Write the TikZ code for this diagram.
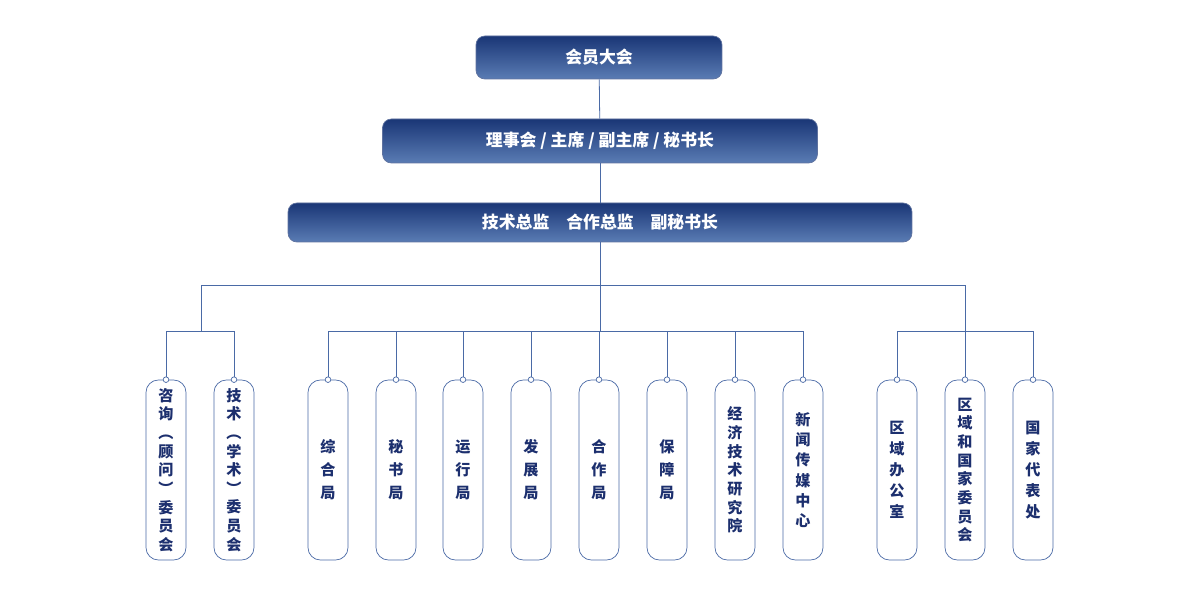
\documentclass[tikz,border=0pt]{standalone}
\usepackage{fontspec}
\setmainfont{Noto Sans CJK SC}
\usepackage{tikz}
\usetikzlibrary{positioning}
\definecolor{navyTop}{HTML}{1A3676}
\definecolor{navyBot}{HTML}{5A7CB4}
\definecolor{lineBlue}{HTML}{4A6AA6}
\definecolor{textBlue}{HTML}{1C2F6E}
\newcommand*\stackChars[2]{%
	\parbox{1.2em}{\centering\bfseries\fontsize{8.6pt}{#1}\selectfont #2}}
\begin{document}
\begin{tikzpicture}[x=0.02cm,y=-0.02cm,
	head/.style = { rounded corners=5pt, top color=navyTop, bottom color=navyBot, draw=navyTop!70, text=white, font=\bfseries\fontsize{9.6pt}{11pt}\selectfont, inner sep=0pt },
	unit/.style = { rounded corners=7pt, draw=lineBlue, fill=white, text=textBlue, minimum width=0.8cm, minimum height=3.6cm, inner sep=0pt },
	link/.style = { draw=lineBlue, line width=0.45pt },
	dot/.style = { circle, draw=lineBlue, fill=white, inner sep=0pt, minimum size=3.2pt },
	]
	\useasboundingbox (0,0) rectangle (1200,614);

	% header boxes
	\node[head, minimum width=4.92cm, minimum height=0.86cm] (CONGRESS) at (599,57.5) {会员大会};
	\node[head, minimum width=8.7cm, minimum height=0.88cm] (COUNCIL) at (600,141) {理事会 / 主席 / 副主席 / 秘书长};
	\node[head, minimum width=12.48cm, minimum height=0.78cm] (DIRECTORS) at (600,222.5) {技术总监\hspace{1em}合作总监\hspace{1em}副秘书长};

	% units
	\node[unit] (CONSULT) at (166,470) {\stackChars{10.6pt}{咨\\询\\︵\\顾\\问\\︶\\委\\员\\会}};
	\node[unit] (ACADEMIC) at (234,470) {\stackChars{10.6pt}{技\\术\\︵\\学\\术\\︶\\委\\员\\会}};
	\node[unit] (GENERAL) at (328,470) {\stackChars{13pt}{综\\合\\局}};
	\node[unit] (SECRET) at (396,470) {\stackChars{13pt}{秘\\书\\局}};
	\node[unit] (OPERATE) at (463,470) {\stackChars{13pt}{运\\行\\局}};
	\node[unit] (DEVELOP) at (531,470) {\stackChars{13pt}{发\\展\\局}};
	\node[unit] (COOP) at (599,470) {\stackChars{13pt}{合\\作\\局}};
	\node[unit] (SUPPORT) at (667,470) {\stackChars{13pt}{保\\障\\局}};
	\node[unit] (ECONOMY) at (735,470) {\stackChars{10.6pt}{经\\济\\技\\术\\研\\究\\院}};
	\node[unit] (MEDIA) at (803,470) {\stackChars{11.5pt}{新\\闻\\传\\媒\\中\\心}};
	\node[unit] (REGION) at (897,470) {\stackChars{12pt}{区\\域\\办\\公\\室}};
	\node[unit] (NATION) at (965,470) {\stackChars{10.6pt}{区\\域\\和\\国\\家\\委\\员\\会}};
	\node[unit] (DELEGATE) at (1033,470) {\stackChars{12pt}{国\\家\\代\\表\\处}};

	% junctions
	\coordinate (MAIN) at (600,285);
	\coordinate (LEFTJ) at (201,285);
	\coordinate (LEFTB) at (201,331);
	\coordinate (MIDB) at (600,331);
	\coordinate (RIGHTJ) at (965,285);
	\coordinate (RIGHTB) at (965,331);

	\path[link] (CONGRESS) -- (COUNCIL);
	\path[link] (COUNCIL) -- (DIRECTORS);
	\path[link] (DIRECTORS.south) -- (MIDB);
	\path[link] (LEFTB) -- (LEFTJ) -- (RIGHTJ) -- (RIGHTB);

	\foreach \u in {CONSULT,ACADEMIC}
		\path[link] (LEFTB) -| (\u.north);
	\foreach \u in {GENERAL,SECRET,OPERATE,DEVELOP,COOP,SUPPORT,ECONOMY,MEDIA}
		\path[link] (MIDB) -| (\u.north);
	\foreach \u in {REGION,NATION,DELEGATE}
		\path[link] (RIGHTB) -| (\u.north);

	\foreach \u in {CONSULT,ACADEMIC,GENERAL,SECRET,OPERATE,DEVELOP,COOP,SUPPORT,ECONOMY,MEDIA,REGION,NATION,DELEGATE}
		\node[dot] at (\u.north) {};
\end{tikzpicture}
\end{document}
